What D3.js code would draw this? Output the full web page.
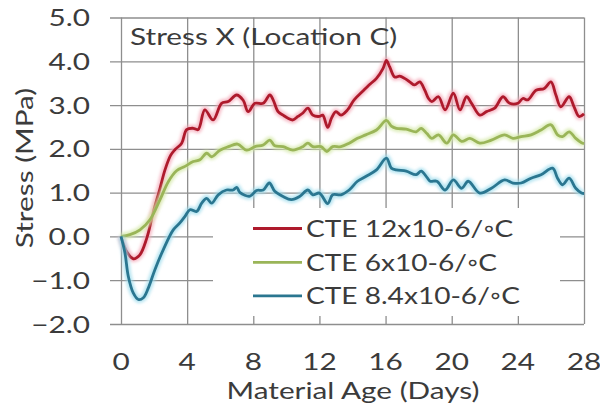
<!DOCTYPE html>
<html>
<head>
<meta charset="utf-8">
<script src="https://cdn.jsdelivr.net/npm/d3@7"></script>
<style>
  html, body { margin: 0; padding: 0; background: #fff; }
  svg { display: block; }
  text { font-family: Lato, "Open Sans", sans-serif; fill: #3b3b3b; }
</style>
</head>
<body>
<svg id="chart" width="600" height="408"></svg>
<script>
// Stress X at location C, three coefficients of thermal expansion
const seriesNames = ["CTE 12x10-6/\u25E6C", "CTE 6x10-6/\u25E6C", "CTE 8.4x10-6/\u25E6C"];

// [material age (days), stress (MPa)]
const cte12 = [
  [0,0],[0.35,-0.35],[0.74,-0.51],[1.14,-0.42],[1.55,-0.05],[1.95,0.55],[2.36,1.1],[2.66,1.52],
  [3.0,1.85],[3.26,1.98],[3.67,2.13],[3.97,2.44],[4.37,2.47],[4.67,2.44],[5.07,2.89],[5.57,2.66],
  [6.08,3.04],[6.48,3.08],[6.99,3.23],[7.39,3.11],[7.69,2.85],[8.1,3.04],[8.6,3.04],[9.0,3.23],
  [9.2,3.12],[9.5,2.85],[9.8,2.77],[10.1,2.7],[10.4,2.66],[10.7,2.74],[11.0,2.82],[11.3,2.93],
  [11.6,2.77],[12.0,2.74],[12.2,2.77],[12.5,2.49],[12.73,2.7],[13.0,2.85],[13.3,2.77],[13.7,2.89],
  [14.1,3.12],[14.6,3.31],[15.0,3.46],[15.45,3.61],[15.85,3.84],[16.05,4.02],[16.25,3.87],[16.55,3.64],
  [16.85,3.66],[17.15,3.61],[17.46,3.53],[17.76,3.46],[18.07,3.53],[18.37,3.34],[18.6,3.15],[18.8,3.08],
  [19.2,3.19],[19.6,2.89],[20.1,3.27],[20.5,2.89],[20.9,3.19],[21.2,3.04],[21.7,2.77],[22.1,2.85],
  [22.6,2.93],[23.1,3.19],[23.5,3.04],[24.0,3.04],[24.3,3.15],[24.6,3.12],[25.1,3.34],[25.6,3.38],
  [26.0,3.53],[26.3,3.23],[26.6,2.96],[27.1,3.19],[27.4,2.96],[27.7,2.74],[28.0,2.8]
];
const cte6 = [
  [0,0],[0.54,0.04],[1.15,0.15],[1.75,0.38],[2.36,0.84],[2.86,1.25],[3.36,1.5],[3.87,1.6],
  [4.37,1.71],[4.77,1.75],[5.18,1.9],[5.48,1.82],[5.98,1.97],[6.49,2.05],[7.05,2.11],[7.6,1.97],
  [8.1,2.05],[8.6,2.09],[9.0,2.2],[9.3,2.07],[9.8,2.05],[10.4,1.97],[11.0,2.05],[11.3,2.13],
  [11.6,2.05],[12.1,2.05],[12.45,1.94],[12.8,2.05],[13.3,2.05],[13.8,2.13],[14.3,2.24],[14.8,2.32],
  [15.45,2.43],[16.05,2.65],[16.35,2.52],[16.65,2.47],[17.25,2.45],[17.85,2.39],[18.15,2.47],[18.5,2.35],
  [18.8,2.24],[19.2,2.32],[19.7,2.13],[20.1,2.32],[20.6,2.17],[21.1,2.24],[21.7,2.13],[22.4,2.2],
  [23.2,2.32],[23.7,2.24],[24.2,2.28],[24.8,2.32],[25.4,2.43],[26.0,2.55],[26.4,2.32],[26.7,2.28],
  [27.1,2.39],[27.5,2.24],[27.85,2.14],[28,2.12]
];
const cte84 = [
  [0,0],[0.24,-0.38],[0.44,-0.91],[0.74,-1.29],[1.05,-1.44],[1.35,-1.4],[1.65,-1.18],[2.05,-0.76],
  [2.56,-0.3],[3.16,0.15],[3.56,0.31],[3.87,0.46],[4.17,0.61],[4.57,0.57],[4.88,0.76],[5.18,0.87],
  [5.48,0.76],[5.88,0.95],[6.38,1.06],[6.78,1.06],[7.0,1.12],[7.2,1.0],[7.8,0.92],[8.2,1.05],
  [8.6,1.06],[8.97,1.22],[9.3,1.03],[9.8,0.91],[10.3,0.84],[10.8,0.91],[11.3,1.06],[11.6,0.95],
  [12.0,0.99],[12.5,0.75],[12.8,0.95],[13.3,0.95],[13.8,1.06],[14.3,1.26],[14.8,1.37],[15.45,1.52],
  [16.05,1.79],[16.35,1.56],[16.65,1.52],[17.25,1.49],[17.85,1.41],[18.15,1.49],[18.5,1.35],[18.7,1.26],
  [19.1,1.26],[19.6,1.06],[20.1,1.29],[20.6,1.1],[21.0,1.26],[21.7,0.99],[22.4,1.1],[23.2,1.29],
  [23.7,1.22],[24.2,1.22],[24.8,1.33],[25.4,1.41],[26.1,1.56],[26.4,1.33],[26.7,1.18],[27.1,1.33],
  [27.5,1.1],[27.85,0.99],[28,0.98]
];

const xTicks = [0, 4, 8, 12, 16, 20, 24, 28];
const yTicks = [-2, -1, 0, 1, 2, 3, 4, 5];

const colors = ["#ae1a2c", "#9ab558", "#2a7690"];
const glows  = ["#f4aab8", "#d4e8a8", "#9fdcec"];

const svg = d3.select("#chart");
const plot = { left: 121, right: 584, top: 17.5, bottom: 324 };
const stretch = 1.24;        // wide lettering
const legendStretch = 1.17;

const x = d3.scaleLinear().domain([0, 28]).range([plot.left, plot.right]);
const y = d3.scaleLinear().domain([-2, 5]).range([plot.bottom, plot.top]);

const defs = svg.append("defs");
defs.append("filter").attr("id", "halo").attr("x", "-5%").attr("y", "-5%").attr("width", "110%").attr("height", "110%")
  .append("feGaussianBlur").attr("stdDeviation", 1.6);

// text placed at (px, py), widened horizontally around its anchor
function label(parent, px, py, str, anchor, rotate, sx) {
  const g = parent.append("g")
    .attr("transform", `translate(${px},${py})` + (rotate ? ` rotate(${rotate})` : "") + ` scale(${sx || stretch},1)`);
  return g.append("text").attr("text-anchor", anchor || "start").attr("font-size", 24).text(str);
}

// horizontal gridlines, running 11px past the left edge as ticks
const yAxis = d3.axisLeft(y).tickValues(yTicks)
  .tickSize(-(plot.right - plot.left) - 11).tickSizeOuter(0).tickFormat("");
const gy = svg.append("g").attr("transform", `translate(${plot.left - 11},0)`).call(yAxis);
gy.select(".domain").remove();
gy.selectAll(".tick line").attr("stroke", "#8e8e8e").attr("stroke-width", 1.3);

// vertical gridlines
const xAxis = d3.axisBottom(x).tickValues(xTicks)
  .tickSize(-(plot.bottom - plot.top)).tickSizeOuter(0).tickFormat("");
const gx = svg.append("g").attr("transform", `translate(0,${plot.bottom})`).call(xAxis);
gx.select(".domain").remove();
gx.selectAll(".tick line").attr("stroke", "#8e8e8e").attr("stroke-width", 1.3);

// tick labels
const yl = svg.append("g");
yTicks.forEach(d => label(yl, 90, y(d), d3.format(".1f")(d), "end").attr("dy", "0.36em"));
const xl = svg.append("g");
xTicks.forEach(d => label(xl, x(d), 370, String(d), "middle"));

// axis titles
label(svg, 353, 399, "Material Age (Days)", "middle");
label(svg, 33, 168, "Stress (MPa)", "middle", -90);

// chart label inside the plot
label(svg, 130, 45, "Stress X (Location C)", "start");

// legend box
const legend = { x: 213, y: 208, w: 347, h: 108 };
svg.append("rect").attr("x", legend.x).attr("y", legend.y).attr("width", legend.w).attr("height", legend.h)
  .attr("fill", "#fff");

// series
const line = d3.line().x(d => x(d[0])).y(d => y(d[1])).curve(d3.curveCatmullRom.alpha(0.5));
const series = [cte12, cte6, cte84];
series.forEach((data, i) => {
  svg.append("path").datum(data).attr("d", line).attr("fill", "none")
    .attr("stroke", glows[i]).attr("stroke-width", 7).attr("stroke-opacity", 0.75)
    .attr("stroke-linejoin", "round").attr("filter", "url(#halo)");
  svg.append("path").datum(data).attr("d", line).attr("fill", "none")
    .attr("stroke", colors[i]).attr("stroke-width", 2.8).attr("stroke-linejoin", "round");
});

// legend entries
const ly = [228.5, 262.3, 295.8];
const lg = svg.append("g");
seriesNames.forEach((name, i) => {
  lg.append("line").attr("x1", 253).attr("x2", 302).attr("y1", ly[i]).attr("y2", ly[i])
    .attr("stroke", colors[i]).attr("stroke-width", 2.8);
  label(lg, 306, ly[i], name, "start", 0, legendStretch).attr("dy", "0.36em");
});
</script>
</body>
</html>
